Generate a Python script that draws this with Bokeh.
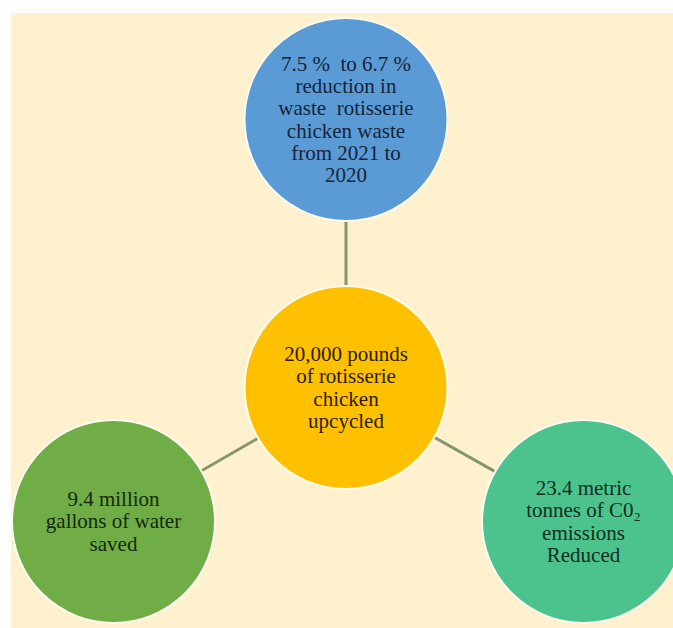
from bokeh.plotting import figure
from bokeh.models import Range1d, ColumnDataSource
from bokeh.embed import file_html
from bokeh.resources import INLINE
from bokeh.core.properties import value

# ---- content ----
node_names = ["waste_reduction", "upcycled", "water_saved", "co2_reduced"]
node_texts = [
    "7.5 %\u00a0 to 6.7 %\nreduction in\nwaste\u00a0 rotisserie\nchicken waste\nfrom 2021 to\n2020",
    "20,000 pounds\nof rotisserie\nchicken\nupcycled",
    "9.4 million\ngallons of water\nsaved",
    "23.4 metric\ntonnes of C0\u2082\nemissions\nReduced",
]
links = [("upcycled", "waste_reduction"), ("upcycled", "water_saved"), ("upcycled", "co2_reduced")]

# ---- layout / style (screen-like coordinates, y downward) ----
node_x = [345.5, 345.5, 113.0, 583.0]
node_y = [119.0, 387.0, 521.0, 521.0]
node_r = 101.5
node_colors = ["#5B9BD5", "#FFC000", "#70AD47", "#4CC38D"]
text_colors = ["#14243a", "#2b1d05", "#132a0c", "#0f2e22"]

W, H = 673, 628
p = figure(width=W, height=H, output_backend="svg", toolbar_location=None,
           x_range=Range1d(0, W), y_range=Range1d(H, 0),
           min_border=0, outline_line_color=None,
           background_fill_color="white", border_fill_color="white")
p.axis.visible = False
p.grid.visible = False

# cream panel
p.quad(left=[10.5], right=[W], top=[12.5], bottom=[H],
       fill_color="#FFF1CE", line_color=None)

# connectors
pos = {n: (x, y) for n, x, y in zip(node_names, node_x, node_y)}
xs = [[pos[a][0], pos[b][0]] for a, b in links]
ys = [[pos[a][1], pos[b][1]] for a, b in links]
p.multi_line(xs=xs, ys=ys, line_color="#86956f", line_width=3)

# nodes
src = ColumnDataSource(dict(x=node_x, y=node_y, color=node_colors,
                            text=node_texts, tcolor=text_colors))
p.circle(x="x", y="y", radius=node_r, fill_color="color", line_color="#FBFBEF",
         line_width=2, source=src)
p.text(x="x", y="y", text="text", text_color="tcolor", source=src,
       text_align="center", text_baseline="middle",
       text_font=value("Liberation Serif"), text_font_size="21px",
       text_line_height=0.92)

open("out.html", "w").write(file_html(p, INLINE))
